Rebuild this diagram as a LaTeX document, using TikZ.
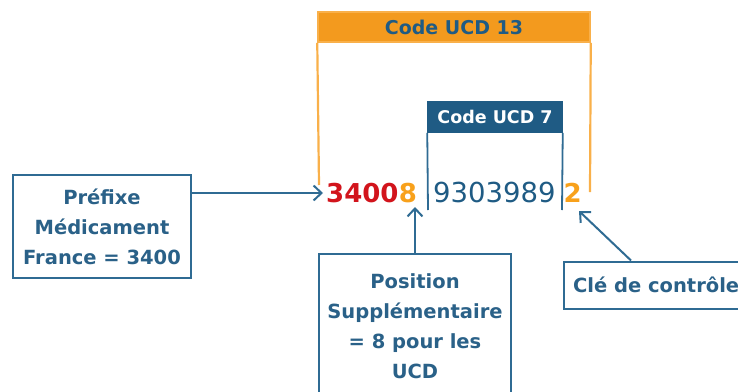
\documentclass[tikz,border=0pt]{standalone}
\usepackage{fontspec}
\setmainfont{DejaVu Sans}
\usetikzlibrary{arrows.meta}
\definecolor{bline}{HTML}{2F6B93}
\definecolor{btext}{HTML}{2A6188}
\definecolor{bhead}{HTML}{1F5B84}
\definecolor{ohead}{HTML}{F39A1E}
\definecolor{oline}{HTML}{F9B04A}
\definecolor{dred}{HTML}{D2141C}
\definecolor{dorange}{HTML}{F8A11B}
\tikzset{
  box/.style={draw=bline, line width=2.2pt, fill=white, text=btext, font=\bfseries\fontsize{19.5}{30}\selectfont, align=center, inner sep=0pt},
  conn/.style={draw=bline, line width=2pt, -{Straight Barb[length=8pt,width=15pt,line width=2pt]}},
  digits/.style={font=\fontsize{27.5}{30}\selectfont, inner sep=0pt, anchor=base west},
  bdigits/.style={font=\bfseries\fontsize{26}{30}\selectfont, inner sep=0pt, anchor=base west},
  ohdr/.style={fill=ohead, draw=oline, line width=1.5pt, text=bhead, font=\bfseries\fontsize{19}{22}\selectfont, inner sep=0pt, minimum height=30pt},
  bhdr/.style={fill=bhead, draw=bhead, line width=1.5pt, text=white, font=\bfseries\fontsize{17.5}{20}\selectfont, inner sep=0pt, minimum height=30pt},
  oseg/.style={draw=oline, line width=2.2pt},
  bseg/.style={draw=bline, line width=1.8pt}
}
\begin{document}
\begin{tikzpicture}[x=1pt,y=-1pt]
\useasboundingbox (0,0) rectangle (738,391);
\clip (0,0) rectangle (738,391);
% headers
\node[ohdr, minimum width=272pt] (h13) at (454,27) {Code UCD 13};
\node[bhdr, minimum width=134pt] (h7) at (495,117) {Code UCD 7};
\draw[oseg] (h13.south west) -- (319,185);
\draw[oseg] (h13.south east) -- (590,192);
\draw[bseg] (h7.south west) -- (428,210);
\draw[bseg] (h7.south east) -- (562,210);
% digits
\node[bdigits, text=dred] (p1) at (326,202.5) {3400};
\node[bdigits, text=dorange] (p2) at (p1.base east) {8};
\node[digits, text=bhead] (p3) at (433,202.5) {9303989};
\node[bdigits, text=dorange] (p4) at (563.5,202.5) {2};
% coordinates for arrow tips
\coordinate (t1) at (323,193);
\coordinate (t2) at (415,207);
\coordinate (t3) at (579,211);
% boxes
\node[box, minimum width=178pt, minimum height=103pt] (b1) at (102,226.5) {Préfixe\\Médicament\\France = 3400};
\node[box, minimum width=192pt, minimum height=144pt, anchor=north] (b2) at (415,253) {Position\\Supplémentaire\\= 8 pour les\\UCD};
\node[box, minimum height=47pt, inner xsep=9pt, anchor=north west] (b3) at (563,260.5) {Clé de contrôle};
% connectors
\draw[conn] (b1.east |- t1) -- (t1);
\draw[conn] (b2.north) -- (t2);
\draw[conn] (631,260.5) -- (t3);
\end{tikzpicture}
\end{document}
